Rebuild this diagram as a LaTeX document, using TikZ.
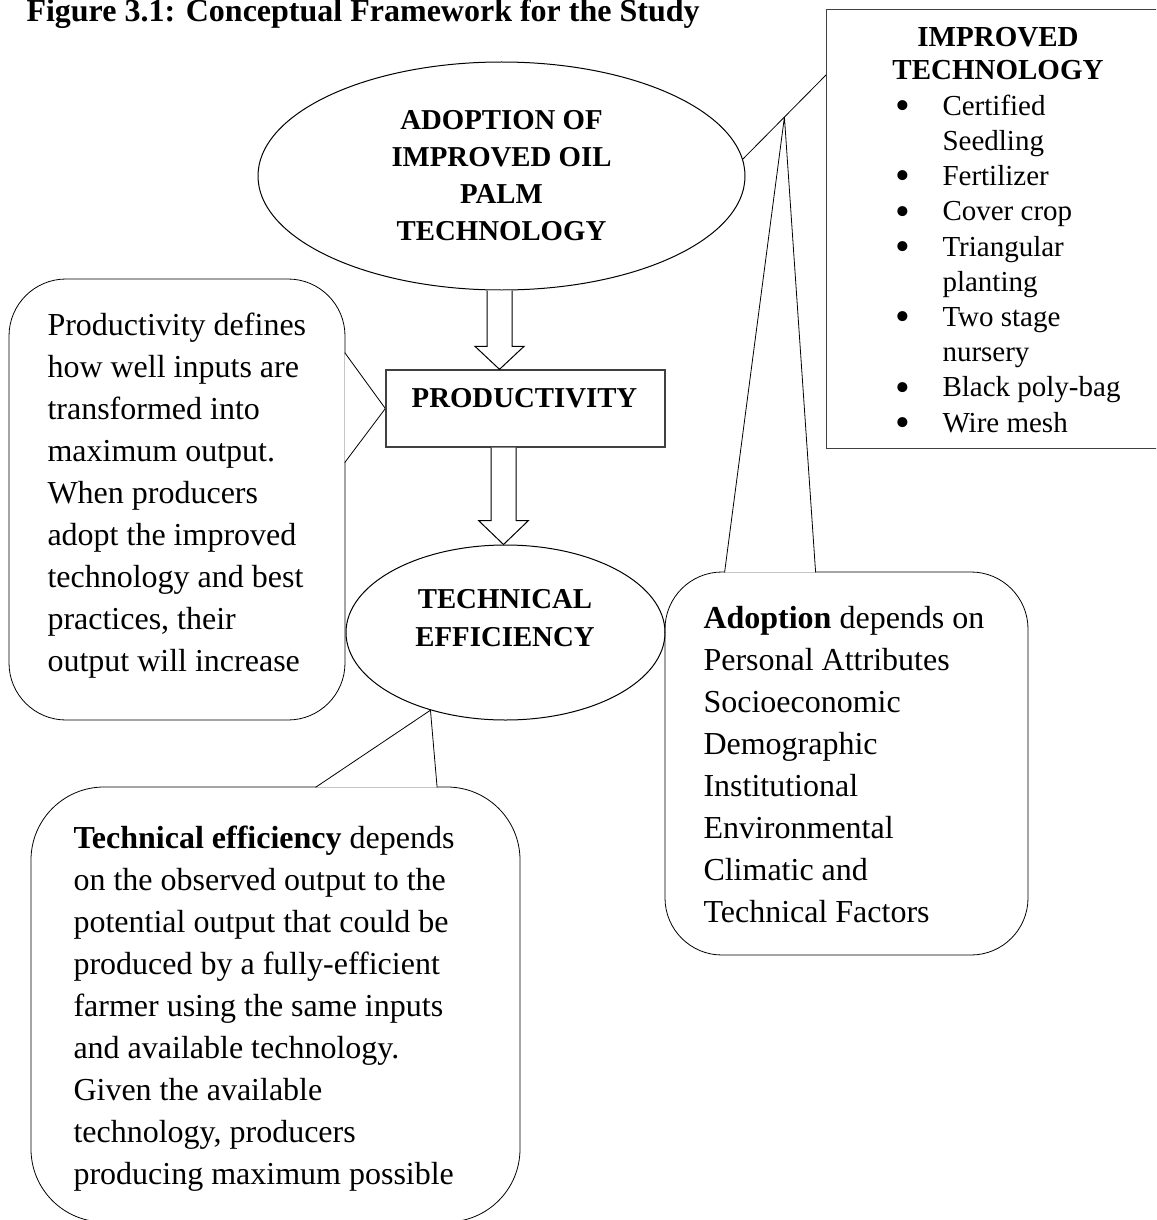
\documentclass[tikz,border=0pt]{standalone}
\usepackage{fontspec}
\setmainfont{Liberation Serif}
\usetikzlibrary{calc,shapes.geometric,backgrounds}
% larger list bullet, lowered to sit on the text's centre line
\newcommand\techbullet{\makebox[23.5pt][l]{\raisebox{-2.1pt}{\fontsize{21}{21}\selectfont\textbullet}}}
\newcommand\techindent{\hspace*{23.5pt}}
\begin{document}
\begin{tikzpicture}[x=0.5pt,y=-0.5pt,
  line width=0.5pt,
  hdr/.style={font=\fontsize{14.4}{18.5}\selectfont\bfseries, inner sep=0pt, align=center},
  body/.style={font=\fontsize{16}{21}\selectfont, inner sep=0pt, align=left},
  lst/.style={font=\fontsize{14.5}{17.6}\selectfont, inner sep=0pt, align=left},
  boxline/.style={draw=black!75, line width=0.65pt},
  note/.style={draw, inner sep=0pt},
  blockarrow/.style={draw, fill=white, line join=miter},
  pointerfill/.style={fill=white, draw=none}
]
\useasboundingbox (0,0) rectangle (1156,1220);
\clip (0,0) rectangle (1156,1220);

% title
\node[anchor=base west, inner sep=0pt, font=\fontsize{16}{19}\selectfont\bfseries]
  (title) at (26,22) {Figure 3.1: Conceptual Framework for the Study};

% central chain
\node[ellipse, draw, minimum width=243.5pt, minimum height=114pt, hdr]
  (adopt) at (501.5,176) {ADOPTION OF\\IMPROVED OIL\\PALM\\TECHNOLOGY};

\node[boxline, minimum width=139.5pt, minimum height=38.5pt, inner sep=0pt]
  (prod) at (525.5,408.5) {};
\node[hdr, anchor=base] (prodlabel) at ($(prod.center)+(-1,-1.5)$) {PRODUCTIVITY};

\node[ellipse, draw, minimum width=159.5pt, minimum height=87.5pt, inner sep=0pt]
  (te) at (505.5,632.5) {};
% multi-line nodes: the base anchor sits on the last line
\node[hdr, font=\fontsize{14.4}{19}\selectfont\bfseries, anchor=base]
  (telabel) at (505,646) {TECHNICAL\\EFFICIENCY};

% block arrows
\coordinate (a1) at ($(adopt.south)+(-2,0)$);
\draw[blockarrow] ($(a1)+(-12.5,0)$) -- ($(a1 |- prod.north)+(-12.5,-23)$)
  -- ($(a1 |- prod.north)+(-24.5,-23)$) -- (a1 |- prod.north)
  -- ($(a1 |- prod.north)+(24.5,-23)$) -- ($(a1 |- prod.north)+(12.5,-23)$)
  -- ($(a1)+(12.5,0)$);
\coordinate (a2) at ($(te.north)+(-2,0)$);
\draw[blockarrow] ($(a2 |- prod.south)+(-12.5,0)$) -- ($(a2)+(-12.5,-24)$)
  -- ($(a2)+(-25,-24)$) -- (a2) -- ($(a2)+(25,-24)$) -- ($(a2)+(12.5,-24)$)
  -- ($(a2 |- prod.south)+(12.5,0)$);

% improved technology box
\node[boxline, minimum width=172pt, minimum height=219.5pt, inner sep=0pt, anchor=north west]
  (techbox) at (826,9) {};
\node[hdr, font=\fontsize{14.5}{16.5}\selectfont\bfseries, anchor=base]
  (techhead) at (998,80) {IMPROVED\\TECHNOLOGY};
\node[lst, anchor=base west] (techlist) at (895,432) {%
  \techbullet Certified\\
  \techindent Seedling\\
  \techbullet Fertilizer\\
  \techbullet Cover crop\\
  \techbullet Triangular\\
  \techindent planting\\
  \techbullet Two stage\\
  \techindent nursery\\
  \techbullet Black poly-bag\\
  \techbullet Wire mesh};
\coordinate (techjoin) at ($(techbox.north west)+(0,66)$);

% callout texts
\node[body, anchor=base west] (ltext) at (47,671) {Productivity defines\\
  how well inputs are\\transformed into\\maximum output.\\When producers\\
  adopt the improved\\technology and best\\practices, their\\output will increase};
\node[body, anchor=base west] (atext) at (703,922) {\textbf{Adoption} depends on\\
  Personal Attributes\\Socioeconomic\\Demographic\\Institutional\\Environmental\\
  Climatic and\\Technical Factors};
\node[body, anchor=base west] (ttext) at (73,1184) {\textbf{Technical efficiency} depends\\
  on the observed output to the\\potential output that could be\\
  produced by a fully-efficient\\farmer using the same inputs\\
  and available technology.\\Given the available\\technology, producers\\
  producing maximum possible};

% callout bodies with their pointers
\begin{pgfonlayer}{background}
  \clip (0,0) rectangle (1156,1220);
  % productivity note
  \node[note, rounded corners=28.5pt, minimum width=168pt, minimum height=220.5pt]
    (lnote) at (177,499.5) {};
  \coordinate (lb1) at ($(lnote.north east)+(-0.7,74)$);
  \coordinate (lb2) at ($(lnote.north east)+(-0.7,184)$);
  \fill[pointerfill] (lb1) -- (prod.west) -- (lb2) -- cycle;
  \draw (lb1) -- (prod.west) -- (lb2);
  % adoption note
  \node[note, rounded corners=28.5pt, minimum width=181.5pt, minimum height=191.5pt]
    (anote) at (846.5,763.5) {};
  \coordinate (apex) at ($(adopt.4.7)!0.5!(techjoin)$);
  \coordinate (ab1) at ($(anote.north west)+(60,0.7)$);
  \coordinate (ab2) at ($(anote.north west)+(151,0.7)$);
  \fill[pointerfill] (ab1) -- (apex) -- (ab2) -- cycle;
  \draw (ab1) -- (apex) -- (ab2);
  % technical efficiency note
  \node[note, rounded corners=36.5pt, minimum width=244.5pt, minimum height=217.5pt]
    (tnote) at (275.5,1004.5) {};
  \coordinate (tb1) at ($(tnote.north west)+(285,0.7)$);
  \coordinate (tb2) at ($(tnote.north west)+(406.5,0.7)$);
  \fill[pointerfill] (tb1) -- (te.226.5) -- (tb2) -- cycle;
  \draw (tb1) -- (te.226.5) -- (tb2);
\end{pgfonlayer}

% link from the technology box to the adoption ellipse
\draw (adopt.4.7) -- (techjoin);
\end{tikzpicture}
\end{document}
